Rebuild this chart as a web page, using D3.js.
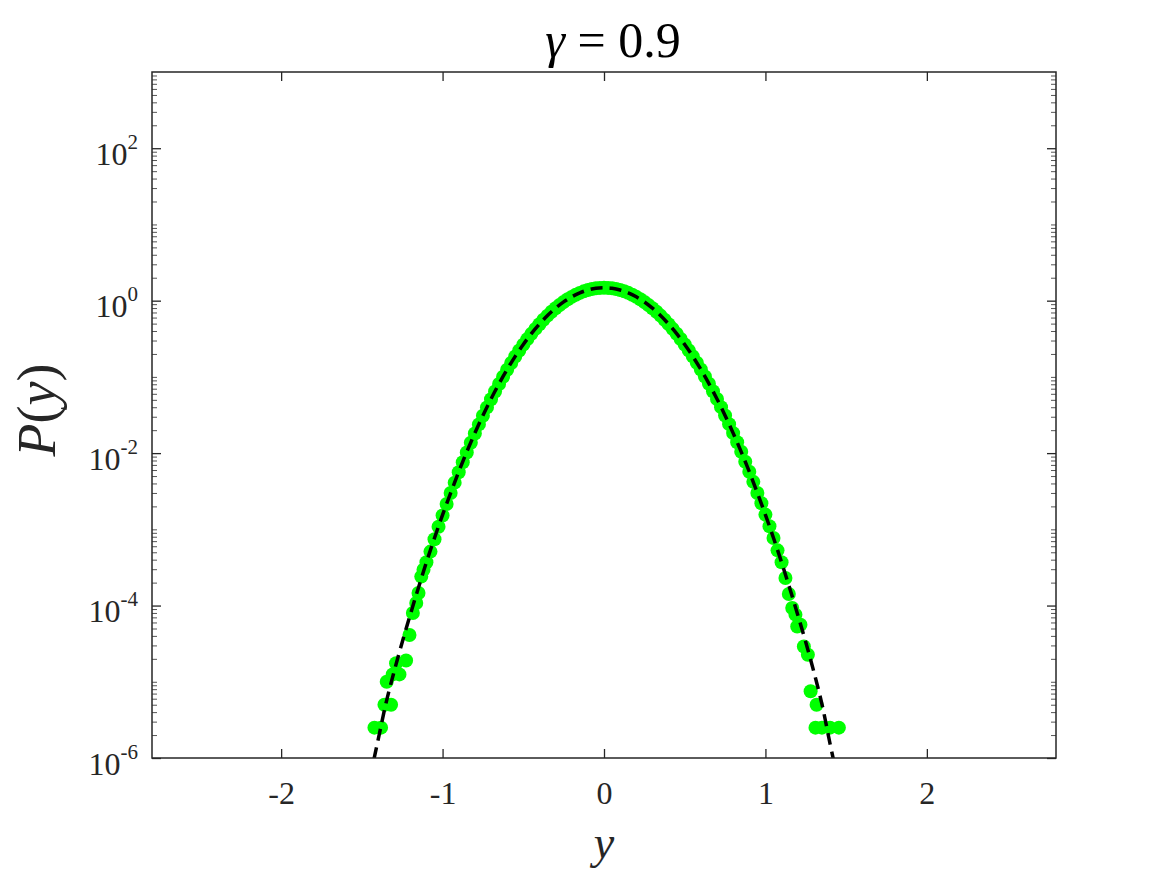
<!DOCTYPE html>
<html><head><meta charset="utf-8">
<script src="https://cdn.jsdelivr.net/npm/d3@7"></script>
<style>body{margin:0;background:#fff}svg{display:block}</style>
</head><body>
<script>
// ---- data ----
const xTicks = [-2, -1, 0, 1, 2];
const xTickLabels = ["-2", "-1", "0", "1", "2"];
const yMajorExps = [-6, -4, -2, 0, 2];
const yTickLabels = ["-6", "-4", "-2", "0", "2"];

// histogram points (green)
const dotX = [
  -1.422, -1.381, -1.36, -1.319, -1.346, -1.309, -1.267, -1.288, -1.226, -1.205,
  -1.184, -1.163, -1.149, -1.132, -1.118,
  -1.1, -1.075, -1.05, -1.025, -1.0, -0.975, -0.95, -0.925, -0.9, -0.875,
  -0.85, -0.825, -0.8, -0.775, -0.75, -0.725, -0.7, -0.675, -0.65, -0.625,
  -0.6, -0.575, -0.55, -0.525, -0.5, -0.475, -0.45, -0.425, -0.4, -0.375,
  -0.35, -0.325, -0.3, -0.275, -0.25, -0.225, -0.2, -0.175, -0.15, -0.125,
  -0.1, -0.075, -0.05, -0.025, 0,
  0.025, 0.05, 0.075, 0.1, 0.125, 0.15, 0.175, 0.2, 0.225, 0.25,
  0.275, 0.3, 0.325, 0.35, 0.375, 0.4, 0.425, 0.45, 0.475, 0.5,
  0.525, 0.55, 0.575, 0.6, 0.625, 0.65, 0.675, 0.7, 0.725, 0.75,
  0.775, 0.8, 0.825, 0.85, 0.875, 0.9, 0.925, 0.95, 0.975, 1.0,
  1.025, 1.05, 1.075, 1.1,
  1.124, 1.145, 1.166, 1.186, 1.197, 1.217, 1.238, 1.263, 1.28, 1.317,
  1.31, 1.35, 1.40, 1.455
];
const dotP = [
  2.5e-6, 2.5e-6, 5e-6, 5e-6, 1e-5, 1.25e-5, 1.25e-5, 1.75e-5, 1.9e-5, 4.1e-5,
  8e-5, 1.08e-4, 1.46e-4, 2.4e-4, 2.95e-4,
  3.7e-4, 5.1e-4, 7.4e-4, 1.08e-3, 1.52e-3, 2.15e-3, 3.0e-3, 4.1e-3, 5.6e-3, 7.6e-3,
  0.0102, 0.0137, 0.0181, 0.0238, 0.0309, 0.0398, 0.0508, 0.0644, 0.0808, 0.1005,
  0.124, 0.152, 0.185, 0.222, 0.265, 0.313, 0.367, 0.426, 0.491, 0.561,
  0.636, 0.714, 0.795, 0.878, 0.961, 1.043, 1.121, 1.196, 1.265, 1.326,
  1.378, 1.420, 1.451, 1.470, 1.478,
  1.471, 1.452, 1.421, 1.379, 1.327, 1.266, 1.197, 1.122, 1.044, 0.962,
  0.879, 0.796, 0.715, 0.637, 0.562, 0.492, 0.427, 0.368, 0.314, 0.266,
  0.223, 0.186, 0.153, 0.125, 0.1012, 0.0813, 0.0648, 0.0512, 0.0401, 0.0311,
  0.0240, 0.0183, 0.0139, 0.0104, 7.7e-3, 5.7e-3, 4.2e-3, 3.0e-3, 2.2e-3, 1.56e-3,
  1.1e-3, 7.7e-4, 5.3e-4, 3.7e-4,
  2.3e-4, 1.42e-4, 9.3e-5, 7.6e-5, 5.3e-5, 5.6e-5, 2.9e-5, 2.26e-5, 7.5e-6, 5e-6,
  2.5e-6, 2.5e-6, 2.5e-6, 2.5e-6
];

// fitted curve (black dashed)
const fitX = [
  -1.45, -1.4, -1.35, -1.3, -1.25, -1.2, -1.15, -1.1, -1.05, -1.0,
  -0.95, -0.9, -0.85, -0.8, -0.75, -0.7, -0.65, -0.6, -0.55, -0.5,
  -0.45, -0.4, -0.35, -0.3, -0.25, -0.2, -0.15, -0.1, -0.05, 0,
  0.05, 0.1, 0.15, 0.2, 0.25, 0.3, 0.35, 0.4, 0.45, 0.5,
  0.55, 0.6, 0.65, 0.7, 0.75, 0.8, 0.85, 0.9, 0.95, 1.0,
  1.05, 1.1, 1.15, 1.2, 1.25, 1.3, 1.35, 1.4, 1.45
];
const fitP = [
  5.5e-7, 1.7e-6, 5.3e-6, 1.37e-5, 3.3e-5, 7.6e-5, 1.7e-4, 3.7e-4, 7.7e-4, 1.55e-3,
  3.0e-3, 5.7e-3, 0.0104, 0.0183, 0.0312, 0.0513, 0.0815, 0.125, 0.186, 0.266,
  0.369, 0.493, 0.638, 0.797, 0.963, 1.123, 1.267, 1.380, 1.453, 1.478,
  1.453, 1.380, 1.267, 1.123, 0.963, 0.797, 0.638, 0.493, 0.369, 0.266,
  0.186, 0.125, 0.0815, 0.0513, 0.0312, 0.0183, 0.0104, 5.7e-3, 3.0e-3, 1.55e-3,
  7.7e-4, 3.7e-4, 1.7e-4, 7.6e-5, 3.3e-5, 1.35e-5, 5.1e-6, 1.55e-6, 5e-7
];

// ---- layout ----
const W = 1167, H = 875;
const L = 152, R = 1056, T = 72, B = 758;
const AX = "#262626";
const FONT = "'Liberation Serif','Times New Roman',serif";

const svg = d3.select("body").append("svg").attr("width", W).attr("height", H)
  .style("font-family", FONT);

const x = d3.scaleLinear().domain([-2.8, 2.8]).range([L, R]);
const y = d3.scaleLog().domain([1e-6, 1e3]).range([B, T]);

svg.append("defs").append("clipPath").attr("id", "clip")
  .append("rect").attr("x", L).attr("y", T).attr("width", R - L).attr("height", B - T);

const plot = svg.append("g").attr("clip-path", "url(#clip)");

// green dots
const pts = dotX.map((d, i) => [d, dotP[i]]);
plot.append("g").selectAll("circle").data(pts).join("circle")
  .attr("cx", d => x(d[0])).attr("cy", d => y(d[1])).attr("r", 7)
  .attr("fill", "#00ff00");

// dashed fit line
const fit = fitX.map((d, i) => [d, fitP[i]]);
plot.append("path").datum(fit)
  .attr("d", d3.line().x(d => x(d[0])).y(d => y(d[1])).curve(d3.curveCatmullRom))
  .attr("fill", "none").attr("stroke", "#000").attr("stroke-width", 3.5)
  .attr("stroke-dasharray", "12,7");

// ---- axes ----
const minorVals = [];
for (let e = -6; e <= 2; e++) for (let k = 1; k <= 9; k++) {
  const v = k * Math.pow(10, e);
  if (k === 1 && yMajorExps.includes(e)) continue;
  if (v > 1e3) continue;
  minorVals.push(v);
}
const majorVals = yMajorExps.map(e => Math.pow(10, e));

function styleAxis(g) {
  g.attr("font-family", FONT);
  g.select(".domain").remove();
  g.selectAll(".tick line").attr("stroke", AX);
}

svg.append("g").attr("transform", `translate(${L},0)`)
  .call(d3.axisLeft(y).tickValues(minorVals).tickSize(-5).tickFormat(""))
  .call(g => { styleAxis(g); g.selectAll(".tick line").attr("stroke", "#555"); });
svg.append("g").attr("transform", `translate(${R},0)`)
  .call(d3.axisRight(y).tickValues(minorVals).tickSize(-5).tickFormat(""))
  .call(g => { styleAxis(g); g.selectAll(".tick line").attr("stroke", "#555"); });

const yAxL = svg.append("g").attr("transform", `translate(${L},0)`)
  .call(d3.axisLeft(y).tickValues(majorVals).tickSize(-9).tickPadding(14).tickFormat(""))
  .call(styleAxis);
yAxL.selectAll(".tick line").attr("stroke-width", 1.3);
yAxL.selectAll(".tick").each(function(d, i) {
  const t = d3.select(this).select("text")
    .attr("x", -14).attr("dy", null).attr("y", 0)
    .attr("font-family", FONT)
    .attr("font-size", 32).attr("fill", AX).attr("text-anchor", "end");
  t.text(null);
  t.append("tspan").attr("dy", 16).text("10");
  t.append("tspan").attr("dy", -16).attr("font-size", 21).text(yTickLabels[i]);
});
svg.append("g").attr("transform", `translate(${R},0)`)
  .call(d3.axisRight(y).tickValues(majorVals).tickSize(-9).tickFormat(""))
  .call(styleAxis)
  .selectAll(".tick line").attr("stroke-width", 1.3);

const xAxB = svg.append("g").attr("transform", `translate(0,${B})`)
  .call(d3.axisBottom(x).tickValues(xTicks).tickSize(-9).tickPadding(0)
    .tickFormat((d, i) => xTickLabels[i]))
  .call(styleAxis);
xAxB.selectAll(".tick line").attr("stroke-width", 1.3);
xAxB.selectAll(".tick text").attr("y", 46).attr("dy", null)
  .attr("font-family", FONT)
  .attr("font-size", 32).attr("fill", AX);
svg.append("g").attr("transform", `translate(0,${T})`)
  .call(d3.axisTop(x).tickValues(xTicks).tickSize(-9).tickFormat(""))
  .call(styleAxis)
  .selectAll(".tick line").attr("stroke-width", 1.3);

svg.append("rect").attr("x", L).attr("y", T).attr("width", R - L).attr("height", B - T)
  .attr("fill", "none").attr("stroke", AX).attr("stroke-width", 1.5);

// ---- texts ----
const title = svg.append("text").attr("x", 613).attr("y", 57)
  .attr("font-family", FONT)
  .attr("text-anchor", "middle").attr("font-size", 50).attr("fill", "#000");
title.append("tspan").attr("font-style", "italic").text("γ");
title.append("tspan").text(" = 0.9");

svg.append("text").attr("x", 604).attr("y", 858)
  .attr("font-family", FONT)
  .attr("text-anchor", "middle").attr("font-size", 46).attr("fill", AX)
  .attr("font-style", "italic").text("y");

const yl = svg.append("text")
  .attr("transform", "translate(55,410) rotate(-90)")
  .attr("font-family", FONT)
  .attr("text-anchor", "middle").attr("font-size", 54).attr("fill", AX);
yl.append("tspan").attr("font-style", "italic").text("P");
yl.append("tspan").text("(");
yl.append("tspan").attr("font-style", "italic").text("y");
yl.append("tspan").text(")");
</script>
</body></html>
